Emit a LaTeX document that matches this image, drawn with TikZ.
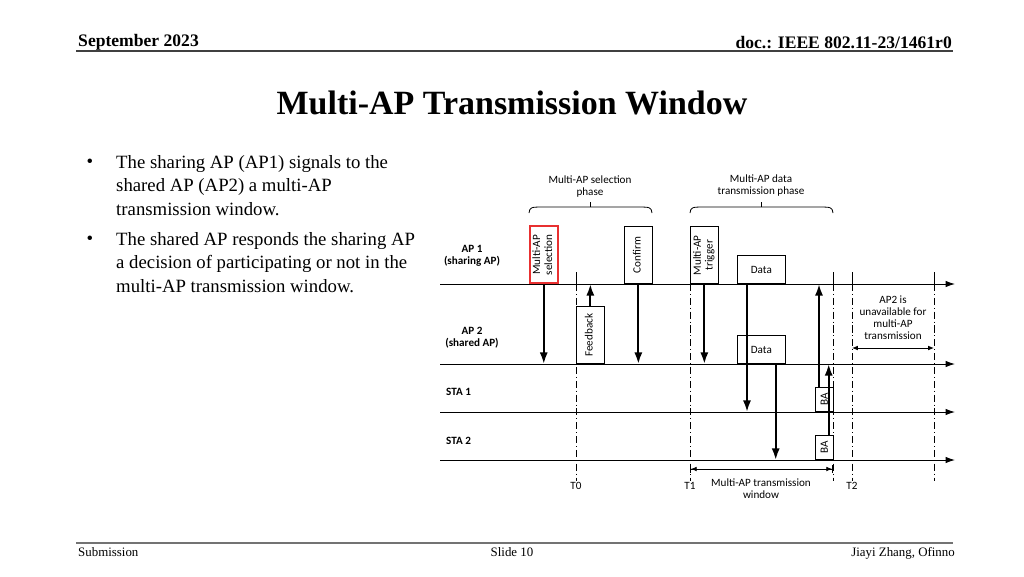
\documentclass[tikz,border=0pt]{standalone}
\usepackage{fontspec}
\setmainfont{Liberation Serif}
\newfontfamily\calibri{Carlito}
\usetikzlibrary{arrows.meta,positioning}
\definecolor{selred}{RGB}{232,48,48}
\newcommand{\dfont}{\calibri\fontsize{9.5}{10.2}\selectfont}
\newcommand{\vtxt}[1]{\rotatebox{90}{\begin{tabular}{@{}c@{}}#1\end{tabular}}}

\begin{document}
\begin{tikzpicture}[x=0.03cm,y=-0.03cm,>={Latex[length=8pt,width=5.5pt]},
    tl/.style={->,line width=.8pt},
    msg/.style={-{Latex[length=10pt,width=7pt]},line width=1.8pt},
    box/.style={draw,line width=.6pt,inner sep=0pt,anchor=south west,font=\dfont,fill=white},
    vbox/.style={box,minimum width=.84cm,minimum height=1.71cm},
    dbox/.style={box,minimum width=1.44cm,minimum height=.84cm},
    babox/.style={box,minimum width=.54cm,minimum height=.72cm},
    vdash/.style={line width=.6pt,dash pattern=on 6pt off 2.5pt on .8pt off 2.5pt},
    lbl/.style={font=\dfont,align=center,inner sep=0pt},
    blbl/.style={font=\dfont\bfseries,align=center,inner sep=0pt},
    bul/.style={font=\fontsize{16}{20}\selectfont,align=left,inner sep=0pt,anchor=north west}]

  \useasboundingbox (0,0) rectangle (1024,576);

  % header and footer
  \node[font=\fontsize{15}{18}\selectfont\bfseries,anchor=base west,inner sep=0pt] (date) at (78,46) {September 2023};
  \node[font=\fontsize{15}{18}\selectfont\bfseries,anchor=base east,inner sep=0pt] (doc) at (952,48) {doc.: IEEE 802.11-23/1461r0};
  \draw[line width=1.2pt,black!75] (76,51) -- (953,51);
  \node[font=\fontsize{29}{34}\selectfont\bfseries,anchor=base,inner sep=0pt] (title) at (512,114) {Multi-AP Transmission Window};
  \draw[line width=1.6pt,black!55] (76,543) -- (953,543);
  \node[font=\fontsize{11}{13}\selectfont,anchor=base west,inner sep=0pt] (sub) at (78,556) {Submission};
  \node[font=\fontsize{11}{13}\selectfont,anchor=base,inner sep=0pt] (slide) at (512,556) {Slide 10};
  \node[font=\fontsize{11}{13}\selectfont,anchor=base east,inner sep=0pt] (auth) at (955,556) {Jiayi Zhang, Ofinno};

  % bullets
  \node[bul] (b1) at (116,155) {The sharing AP (AP1) signals to the\\shared AP (AP2) a multi-AP\\transmission window.};
  \node[bul] (b2) at (116,232) {The shared AP responds the sharing AP\\a decision of participating or not in the\\multi-AP transmission window.};
  \node[font=\fontsize{16}{20}\selectfont] (d1) at (90,163) {\textbullet};
  \node[font=\fontsize{16}{20}\selectfont] (d2) at (90,240) {\textbullet};

  % time lines
  \coordinate (a1s) at (440,284); \coordinate (a1e) at (955,284);
  \coordinate (a2s) at (440,364); \coordinate (a2e) at (955,364);
  \coordinate (s1s) at (440,412); \coordinate (s1e) at (955,412);
  \coordinate (s2s) at (440,460); \coordinate (s2e) at (955,460);

  % dashed time marks
  \foreach \x in {576,690,833,852,934}{
    \draw[line width=.7pt] (\x,272) -- (\x,284);
    \draw[vdash] (\x,284) -- (\x,481);
  }

  \draw[tl] (a1s) -- (a1e);
  \draw[tl] (a2s) -- (a2e);
  \draw[tl] (s1s) -- (s1e);
  \draw[tl] (s2s) -- (s2e);

  \node[blbl] (ap1) at (472,256) {AP 1\\(sharing AP)};
  \node[blbl] (ap2) at (472,338) {AP 2\\(shared AP)};
  \node[blbl,anchor=west] (sta1) at (446,392) {STA 1};
  \node[blbl,anchor=west] (sta2) at (446,441) {STA 2};

  % frames
  \node[vbox,draw=selred,line width=1.3pt] (sel) at (529,284) {\vtxt{Multi-AP\\selection}};
  \node[vbox] (conf) at (624,284) {\vtxt{Confirm}};
  \node[vbox] (trig) at (690,284) {\vtxt{Multi-AP\\trigger}};
  \node[dbox] (data1) at (737,284) {Data};
  \node[vbox] (fb) at (576,364) {\vtxt{Feedback}};
  \node[dbox] (data2) at (737,364) {Data};
  \node[babox] (ba1) at (815,412) {\rotatebox{90}{BA}};
  \node[babox] (ba2) at (815,460) {\rotatebox{90}{BA}};

  \coordinate (p1) at ([xshift=.3cm]data1.south west);
  \coordinate (p2) at ([xshift=-.3cm]data2.south east);
  \coordinate (p3) at ([xshift=.12cm]ba1.north west);
  \coordinate (p4) at ([xshift=-.15cm]ba2.north east);

  % frame exchanges
  \draw[msg] (sel.south) -- (sel.south |- a2s);
  \draw[msg] (fb.north) -- (fb.north |- a1s);
  \draw[msg] (conf.south) -- (conf.south |- a2s);
  \draw[msg] (trig.south) -- (trig.south |- a2s);
  \draw[msg] (p1) -- (p1 |- s1s);
  \draw[msg] (p2) -- (p2 |- s2s);
  \draw[msg] (p3) -- (p3 |- a1s);
  \draw[msg] (p4) -- (p4 |- a2s);

  % phases
  \draw[line width=.7pt] (529,213) .. controls (530,207) .. (546,207) -- (635,207) .. controls (651,207) .. (652,213);
  \draw[line width=.7pt] (590,207) -- (590,202);
  \node[lbl] (selph) at (590,187) {Multi-AP selection\\phase};
  \draw[line width=.7pt] (690,213) .. controls (691,207) .. (707,207) -- (816,207) .. controls (832,207) .. (833,213);
  \draw[line width=.7pt] (761,207) -- (761,202);
  \node[lbl] (dataph) at (761,186) {Multi-AP data\\transmission phase};

  % time labels and window
  \node[lbl] (t0) at (576,486) {T0};
  \node[lbl] (t1) at (690,486) {T1};
  \node[lbl] (t2) at (852,486) {T2};
  \coordinate (w1) at (690,469); \coordinate (w2) at (833,469);
  \draw[{Bar[width=6pt]Latex[length=5pt,width=4pt]}-{Latex[length=5pt,width=4pt]Bar[width=6pt]},line width=.7pt] (w1) -- (w2);
  \node[lbl] (win) at (761,489) {Multi-AP transmission\\window};
  \coordinate (u1) at (852,348); \coordinate (u2) at (934,348);
  \draw[{Latex[length=5pt,width=4pt]}-{Latex[length=5pt,width=4pt]},line width=.7pt] (u1) -- (u2);
  \node[lbl] (unav) at (893,318) {AP2 is\\unavailable for\\multi-AP\\transmission};

\end{tikzpicture}
\end{document}
